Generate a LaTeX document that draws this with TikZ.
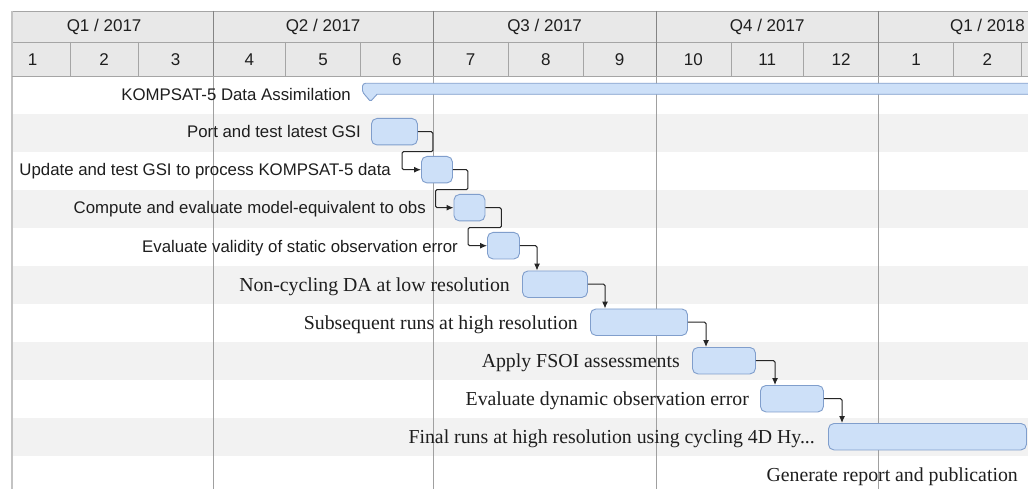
\documentclass[tikz,border=0pt]{standalone}
\usepackage{fontspec}
\setmainfont{Liberation Serif}
\newfontfamily\hsans{Liberation Sans}
\usetikzlibrary{arrows.meta,calc}
\definecolor{hdrfill}{RGB}{232,232,232}
\definecolor{hdrline}{RGB}{165,165,165}
\definecolor{stripe}{RGB}{242,242,242}
\definecolor{qline}{RGB}{160,160,160}
\definecolor{frameline}{RGB}{195,195,195}
\definecolor{barfill}{RGB}{205,224,248}
\definecolor{barline}{RGB}{128,158,204}
\definecolor{txt}{RGB}{30,30,30}
\begin{document}
\begin{tikzpicture}[x=1pt,y=-1pt,
 task/.style={draw=barline, fill=barfill, rounded corners=5.5pt, line width=0.9pt, inner sep=0pt, anchor=north west, minimum height=26.5pt},
 slabel/.style={font=\hsans\fontsize{16.8}{18}\selectfont, text=txt, inner sep=0pt, anchor=base east},
 rlabel/.style={font=\fontsize{19.8}{22}\selectfont, text=txt, inner sep=0pt, anchor=base east},
 hlabel/.style={font=\hsans\fontsize{17}{18}\selectfont, text=txt, inner sep=0pt},
 conn/.style={draw=black!85, line width=1pt, rounded corners=1.5pt, -{Latex[length=7pt,width=6pt]}},
]
\useasboundingbox (0,0) rectangle (1028,489);
\clip (0,0) rectangle (1028,489);
\fill[white] (0,0) rectangle (1028,489);
% stripes
\foreach \i in {2,4,6,8,10} \fill[stripe] (12,{76+38*(\i-1)}) rectangle (1040,{76+38*\i});
% quarter lines
\foreach \x in {213,433.2,655.9,878.5} \draw[qline, line width=0.8pt] (\x,11) -- (\x,489);
\draw[frameline, line width=1.6pt] (12,11) -- (12,489);
% header
\fill[hdrfill] (12,11) rectangle (1100,76);
\draw[hdrline, line width=0.8pt] (12,11) -- (1100,11) (12,42) -- (1100,42) (12,76) -- (1100,76);
\foreach \x in {70.2,138,285.6,360.6,508.2,583.3,730.9,803.5,953.5,1021.3} \draw[hdrline, line width=0.8pt] (\x,42) -- (\x,76);
\foreach \x in {213,433.2,655.9,878.5} \draw[hdrline!80!black, line width=0.8pt] (\x,11) -- (\x,76);
\draw[frameline, line width=1.6pt] (12,11) -- (12,76);
% quarter labels
\node[hlabel] (q1) at (104.1,26.5) {Q1 / 2017};
\node[hlabel] (q2) at (323.1,26.5) {Q2 / 2017};
\node[hlabel] (q3) at (544.6,26.5) {Q3 / 2017};
\node[hlabel] (q4) at (767.2,26.5) {Q4 / 2017};
\node[hlabel] (q5) at (987.4,26.5) {Q1 / 2018};
% month labels
\foreach \k/\m/\a/\b in {1/1/-4.8/70.2, 2/2/70.2/138, 3/3/138/213, 4/4/213/285.6, 5/5/285.6/360.6, 6/6/360.6/433.2, 7/7/433.2/508.2, 8/8/508.2/583.3, 9/9/583.3/655.9, 10/10/655.9/730.9, 11/11/730.9/803.5, 12/12/803.5/878.5, 13/1/878.5/953.5, 14/2/953.5/1021.3}
  \node[hlabel] (m\k) at ({(\a+\b)/2},59.5) {\m};
% summary bar
\filldraw[fill=barfill, draw=barline, line width=0.9pt] (362.5,88) [rounded corners=3pt]-- (362.5,83.3) -- (1040,83.3) [sharp corners]-- (1040,94.3) -- (377,94.3) [rounded corners=1.5pt]-- (370.5,101.5) -- (362.5,92) [sharp corners]-- cycle;
% labels
\node[slabel] (l1) at (351,101) {KOMPSAT-5 Data Assimilation};
\node[slabel] (l2) at (361,138) {Port and test latest GSI};
\node[slabel] (l3) at (391,176) {Update and test GSI to process KOMPSAT-5 data};
\node[slabel] (l4) at (426,214) {Compute and evaluate model-equivalent to obs};
\node[slabel] (l5) at (458,252) {Evaluate validity of static observation error};
\node[rlabel] (l6) at (510,291) {Non-cycling DA at low resolution};
\node[rlabel] (l7) at (578,329) {Subsequent runs at high resolution};
\node[rlabel] (l8) at (680,367) {Apply FSOI assessments};
\node[rlabel] (l9) at (749,405) {Evaluate dynamic observation error};
\node[rlabel] (l10) at (815,443) {Final runs at high resolution using cycling 4D Hy...};
\node[rlabel] (l11) at (1018,481) {Generate report and publication};
% tasks
\node[task, minimum width=46pt] (port) at (371,118) {};
\node[task, minimum width=31pt] (upd) at (421,156) {};
\node[task, minimum width=31pt] (comp) at (453.5,194) {};
\node[task, minimum width=32pt] (evs) at (487,232) {};
\node[task, minimum width=65pt] (ncy) at (522,270.5) {};
\node[task, minimum width=97pt] (sub) at (590,308.5) {};
\node[task, minimum width=63pt] (fsoi) at (692,347) {};
\node[task, minimum width=63pt] (evd) at (760,385) {};
\node[task, minimum width=198pt] (fin) at (828,423) {};
% connectors
\draw[conn] (port.east) -- ++(15,0) -- ++(0,20) -| ($(upd.west)+(-19,0)$) -- (upd.west);
\draw[conn] (upd.east) -- ++(15,0) -- ++(0,20) -| ($(comp.west)+(-18,0)$) -- (comp.west);
\draw[conn] (comp.east) -- ++(16,0) -- ++(0,20) -| ($(evs.west)+(-19,0)$) -- (evs.west);
\draw[conn] (evs.east) -| ($(ncy.north west)+(15,0)$);
\draw[conn] (ncy.east) -| ($(sub.north west)+(15,0)$);
\draw[conn] (sub.east) -| ($(fsoi.north west)+(14,0)$);
\draw[conn] (fsoi.east) -| ($(evd.north west)+(15,0)$);
\draw[conn] (evd.east) -| ($(fin.north west)+(14,0)$);
\end{tikzpicture}
\end{document}
